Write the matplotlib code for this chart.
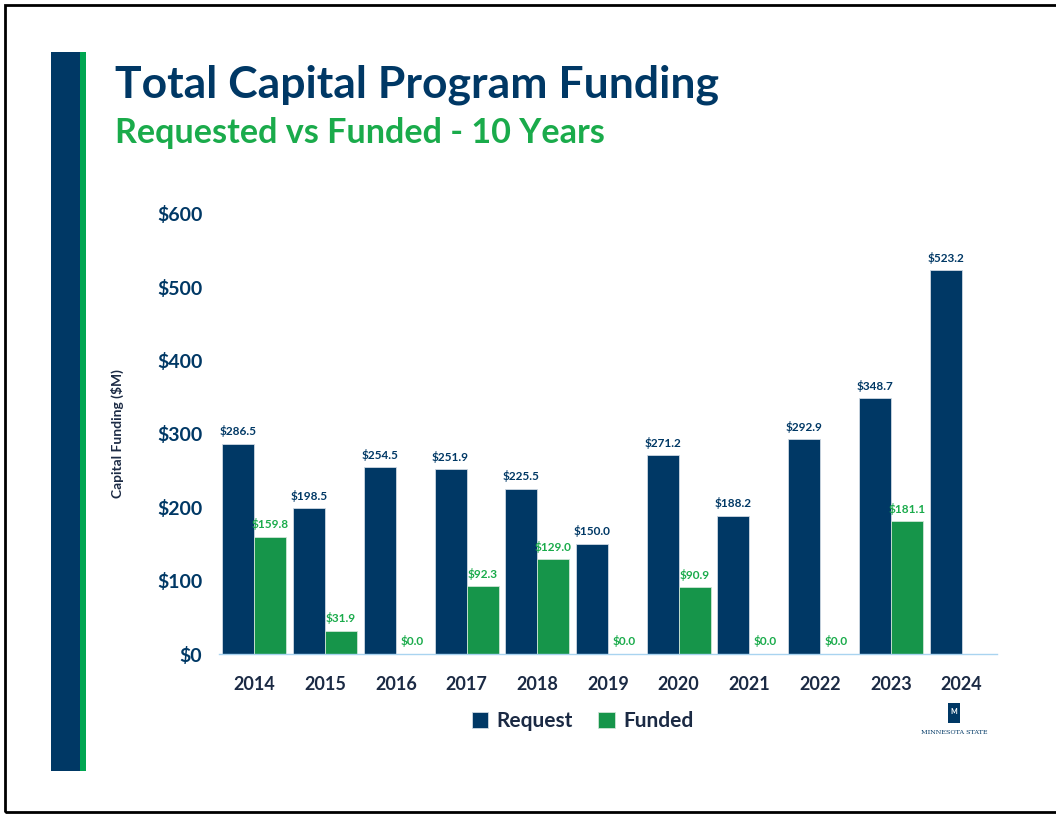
import numpy as np
import matplotlib.pyplot as plt
from matplotlib.patches import Rectangle

years = ["2014", "2015", "2016", "2017", "2018", "2019", "2020", "2021", "2022", "2023", "2024"]
request = [286.5, 198.5, 254.5, 251.9, 225.5, 150.0, 271.2, 188.2, 292.9, 348.7, 523.2]
funded = [159.8, 31.9, 0.0, 92.3, 129.0, 0.0, 90.9, 0.0, 0.0, 181.1, None]
yticks = [0, 100, 200, 300, 400, 500, 600]

navy = "#003865"
green = "#16954a"
green_txt = "#1aab4b"
dark = "#1b2a44"

plt.rcParams['font.family'] = ['Lato', 'DejaVu Sans']

W, H = 1056, 818
fig = plt.figure(figsize=(W / 100, H / 100), dpi=100)

# page frame and side stripes
fig.add_artist(Rectangle((4.5 / W, 1 - 812 / H), 1.2, (812 - 5) / H, transform=fig.transFigure,
                         fill=False, edgecolor="black", linewidth=2))
fig.add_artist(Rectangle((51 / W, 1 - 771 / H), 29 / W, (771 - 52) / H, transform=fig.transFigure,
                         color=navy, linewidth=0))
fig.add_artist(Rectangle((80 / W, 1 - 771 / H), 6 / W, (771 - 52) / H, transform=fig.transFigure,
                         color="#00a651", linewidth=0))

fig.text(115 / W, 1 - 85 / H, "Total Capital Program Funding", fontsize=32, fontweight="bold",
         color=navy, va="center", ha="left")
fig.text(115 / W, 1 - 133 / H, "Requested vs Funded - 10 Years", fontsize=24.6, fontweight="bold",
         color=green_txt, va="center", ha="left")

ax = fig.add_axes([219 / W, 1 - 654 / H, (997 - 219) / W, (654 - 214) / H])
x = np.arange(len(years))
w = 0.453
req_vals = np.array(request)
fund_vals = np.array([v if v is not None else 0 for v in funded])
ax.bar(x - w / 2, req_vals, w, color=navy, edgecolor="#cfd8e3", linewidth=0.6, label="Request")
ax.bar(x + w / 2, fund_vals, w, color=green, edgecolor="#cfe5d6", linewidth=0.6, label="Funded")

for i in range(len(years)):
    ax.text(x[i] - w / 2, request[i] + 9, "$%.1f" % request[i], ha="center", va="bottom",
            fontsize=8.5, fontweight="bold", color=navy)
    if funded[i] is not None:
        ax.text(x[i] + w / 2, funded[i] + 9, "$%.1f" % funded[i], ha="center", va="bottom",
                fontsize=8.5, fontweight="bold", color=green_txt)

ax.set_xlim(-0.5, len(years) - 0.5)
ax.set_ylim(0, 600)
ax.set_yticks(yticks)
ax.set_yticklabels(["$%d" % v for v in yticks], fontsize=14, fontweight="bold", color=navy)
ax.set_xticks(x)
ax.set_xticklabels(years, fontsize=13, fontweight="bold", color=dark)
ax.tick_params(length=0)
ax.tick_params(axis="y", pad=12)
ax.tick_params(axis="x", pad=16)
for s in ["top", "right", "left"]:
    ax.spines[s].set_visible(False)
ax.spines["bottom"].set_color("#a9d4f0")
ax.spines["bottom"].set_linewidth(1)
ax.set_ylabel("Capital Funding ($M)", fontsize=10, fontweight="bold", color=dark, labelpad=24)

leg = ax.legend(loc="upper center", bbox_to_anchor=(0.467, -0.088), ncol=2, frameon=False,
                fontsize=15, handlelength=0.8, handleheight=0.8, columnspacing=1.2, handletextpad=0.4)
for t in leg.get_texts():
    t.set_fontweight("bold")
    t.set_color(dark)

# small logo
fig.add_artist(Rectangle((948 / W, 1 - 723 / H), 12 / W, 20 / H, transform=fig.transFigure,
                         color=navy, linewidth=0))
fig.text(954 / W, 1 - 712 / H, "M", fontsize=5, color="white", ha="center", va="center", fontweight="bold")
fig.text(954 / W, 1 - 732 / H, "MINNESOTA STATE", fontsize=4.6, color=navy, ha="center", va="center",
         family=["DejaVu Serif"])

fig.savefig("out.png", dpi=100)
